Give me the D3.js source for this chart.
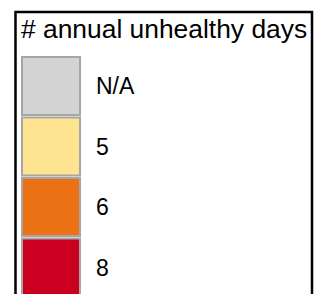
<!DOCTYPE html>
<html>
<head>
<meta charset="utf-8">
<script src="https://cdn.jsdelivr.net/npm/d3@7"></script>
<style>
  body { margin: 0; background: #fff; }
  svg { display: block; font-family: "Liberation Sans", Arial, sans-serif; }
</style>
</head>
<body>
<div id="chart"></div>
<script>
const title = '# annual unhealthy days';
const categories = ['N/A', '5', '6', '8'];
const colors = ['#d3d3d3', '#fee391', '#ec7014', '#cb0020'];

const width = 323, height = 294;

let svg = d3.select('#chart').append('svg')
    .attr('width', width)
    .attr('height', height);

// legend frame (runs past the bottom edge)
svg.append('rect')
    .attr('x', 15.5).attr('y', 12)
    .attr('width', 296.5).attr('height', 320)
    .attr('fill', '#fff')
    .attr('stroke', '#000')
    .attr('stroke-width', 2.5);

svg.append('text')
    .attr('x', 21).attr('y', 38)
    .attr('font-size', 26.4)
    .attr('fill', '#000')
    .text(title);

// rows
let y = d3.scaleBand().domain(categories).range([56, 56 + 60.5 * categories.length]).padding(0);
let color = d3.scaleOrdinal().domain(categories).range(colors);

let row = svg.selectAll('.row').data(categories).enter()
    .append('g').attr('class', 'row')
    .attr('transform', d => `translate(0, ${y(d)})`);

row.append('rect')
    .attr('x', 22).attr('y', 1)
    .attr('width', 58).attr('height', y.bandwidth() - 2.5)
    .attr('fill', d => color(d))
    .attr('stroke', '#a6a6a6')
    .attr('stroke-width', 2);

row.append('text')
    .attr('x', 96)
    .attr('y', y.bandwidth() / 2)
    .attr('dy', '0.35em')
    .attr('font-size', 23)
    .attr('fill', '#000')
    .text(d => d);
</script>
</body>
</html>
